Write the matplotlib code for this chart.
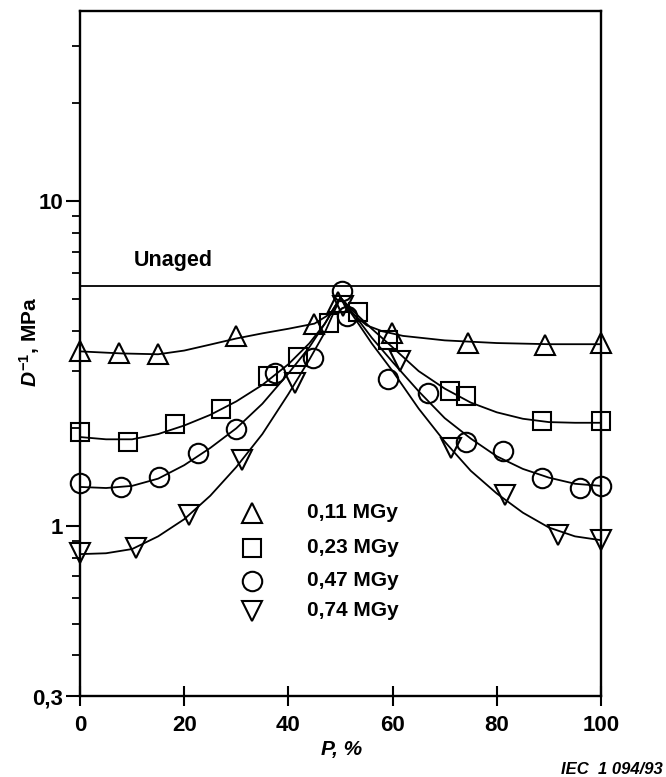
import matplotlib
matplotlib.use("Agg")
import matplotlib.pyplot as plt
from matplotlib.ticker import FixedLocator, NullFormatter

plt.rcParams['font.family'] = ['Liberation Sans', 'DejaVu Sans']
plt.rcParams['mathtext.fontset'] = 'custom'
plt.rcParams['mathtext.it'] = 'Liberation Sans:italic:bold'
plt.rcParams['mathtext.rm'] = 'Liberation Sans:bold'

# ---- data ----
labels = ["0,11 MGy", "0,23 MGy", "0,47 MGy", "0,74 MGy"]
markers = ["^", "s", "o", "v"]
marker_sizes = [14, 13, 14, 14]

p_011 = [0, 7.5, 15, 30, 45, 49.5, 59.8, 74.4, 89.2, 100]
d_011 = [3.46, 3.42, 3.38, 3.84, 4.2, 4.9, 3.94, 3.67, 3.62, 3.65]

p_023 = [0, 9.3, 18.2, 27, 36, 41.8, 47.7, 53.4, 59.1, 71, 74, 88.6, 100]
d_023 = [1.945, 1.82, 2.06, 2.30, 2.89, 3.32, 4.23, 4.55, 3.75, 2.60, 2.52, 2.10, 2.10]

p_047 = [0, 7.9, 15.2, 22.6, 29.9, 37.4, 44.8, 50.2, 51.2, 59.1, 66.7, 74, 81.2, 88.6, 96, 100]
d_047 = [1.358, 1.316, 1.42, 1.68, 1.99, 2.96, 3.30, 5.3, 4.43, 2.83, 2.57, 1.82, 1.70, 1.41, 1.31, 1.33]

p_074 = [0, 10.7, 21, 31, 41.3, 50.5, 61.4, 71.3, 81.5, 91.7, 100]
d_074 = [0.826, 0.856, 1.084, 1.60, 2.76, 4.75, 3.22, 1.74, 1.25, 0.941, 0.908]

# fitted curves
cp_011 = [0, 8, 15, 20, 25, 30, 35, 40, 45, 48, 50, 52, 55, 58, 62, 70, 80, 90, 100]
cd_011 = [3.45, 3.40, 3.38, 3.47, 3.62, 3.78, 3.92, 4.05, 4.2, 4.5, 5.05, 4.55, 4.15, 3.98, 3.85, 3.73, 3.66, 3.63, 3.63]

cp_023 = [0, 5, 10, 15, 20, 25, 30, 35, 40, 44, 47, 50, 53, 56, 60, 65, 70, 75, 80, 85, 90, 95, 100]
cd_023 = [1.88, 1.85, 1.85, 1.92, 2.04, 2.20, 2.42, 2.72, 3.15, 3.65, 4.2, 5.05, 4.5, 4.05, 3.55, 3.0, 2.65, 2.4, 2.24, 2.14, 2.09, 2.08, 2.08]

cp_047 = [0, 5, 10, 15, 20, 25, 30, 35, 40, 44, 47, 50, 53, 56, 60, 65, 70, 75, 80, 85, 90, 95, 100]
cd_047 = [1.32, 1.31, 1.33, 1.40, 1.54, 1.74, 2.0, 2.38, 2.95, 3.55, 4.2, 5.05, 4.4, 3.8, 3.2, 2.6, 2.15, 1.86, 1.64, 1.50, 1.41, 1.35, 1.33]

cp_074 = [0, 5, 10, 15, 20, 25, 30, 35, 40, 44, 47, 50, 53, 56, 60, 65, 70, 75, 80, 85, 90, 95, 100]
cd_074 = [0.82, 0.825, 0.85, 0.93, 1.05, 1.24, 1.52, 1.92, 2.55, 3.25, 3.95, 5.05, 4.3, 3.65, 3.0, 2.3, 1.82, 1.48, 1.26, 1.10, 0.99, 0.93, 0.905]

unaged_value = 5.5

series_p = [p_011, p_023, p_047, p_074]
series_d = [d_011, d_023, d_047, d_074]
curves_p = [cp_011, cp_023, cp_047, cp_074]
curves_d = [cd_011, cd_023, cd_047, cd_074]

x_ticks = [0, 20, 40, 60, 80, 100]
y_major = [0.3, 1, 10]
y_major_labels = ["0,3", "1", "10"]
y_minor = [0.4, 0.5, 0.6, 0.7, 0.8, 0.9, 2, 3, 4, 5, 6, 7, 8, 9, 20, 30]

# ---- figure ----
W, H = 666, 777
fig = plt.figure(figsize=(W / 100, H / 100), dpi=100)
ax = fig.add_axes([80 / W, 1 - 696 / H, (601 - 80) / W, (696 - 11) / H])
ax.set_yscale("log")
ax.set_xlim(0, 100)
ax.set_ylim(0.3, 38.5)

lw = 1.3
for cp, cd in zip(curves_p, curves_d):
    ax.plot(cp, cd, color="black", lw=lw, zorder=2)
for p, d, m, ms in zip(series_p, series_d, markers, marker_sizes):
    ax.plot(p, d, linestyle="none", marker=m, ms=ms, mfc="none",
            mec="black", mew=1.5, zorder=3, clip_on=False)

ax.axhline(unaged_value, color="black", lw=lw)
ax.text(10.3, 6.55, "Unaged", fontsize=15.5, fontweight="bold", ha="left", va="center")

# legend drawn manually in data coords
leg_x_marker = 33
leg_x_text = 43.5
leg_y = [1.10, 0.858, 0.679, 0.548]
for m, ms, lab, yy in zip(markers, marker_sizes, labels, leg_y):
    ax.plot([leg_x_marker], [yy], marker=m, ms=ms, mfc="none", mec="black", mew=1.5,
            linestyle="none")
    ax.text(leg_x_text, yy, lab, fontsize=15, fontweight="bold", va="center", ha="left")

for s in ax.spines.values():
    s.set_linewidth(1.7)

ax.xaxis.set_major_locator(FixedLocator(x_ticks))
ax.set_xticklabels([str(v) for v in x_ticks], fontsize=16, fontweight="bold")
ax.tick_params(axis="x", direction="inout", length=14, width=1.5, pad=7)

ax.yaxis.set_major_locator(FixedLocator(y_major))
ax.set_yticklabels(y_major_labels, fontsize=16, fontweight="bold")
ax.yaxis.set_minor_locator(FixedLocator(y_minor))
ax.yaxis.set_minor_formatter(NullFormatter())
ax.tick_params(axis="y", which="major", direction="out", length=10, width=1.5, pad=2)
ax.tick_params(axis="y", which="minor", direction="out", length=6, width=1.3)

fig.text(30 / W, 1 - 342 / H, r"$D^{-1}$, MPa", rotation=90, fontsize=15,
         fontweight="bold", ha="center", va="center")
fig.text(342 / W, 1 - 750 / H, "P, %", fontsize=15, fontweight="bold",
         ha="center", va="center", style="italic")
fig.text(663 / W, 1 - 769 / H, "IEC  1 094/93", fontsize=12, fontweight="bold",
         ha="right", va="center", style="italic")

fig.savefig("out.png", dpi=100)
